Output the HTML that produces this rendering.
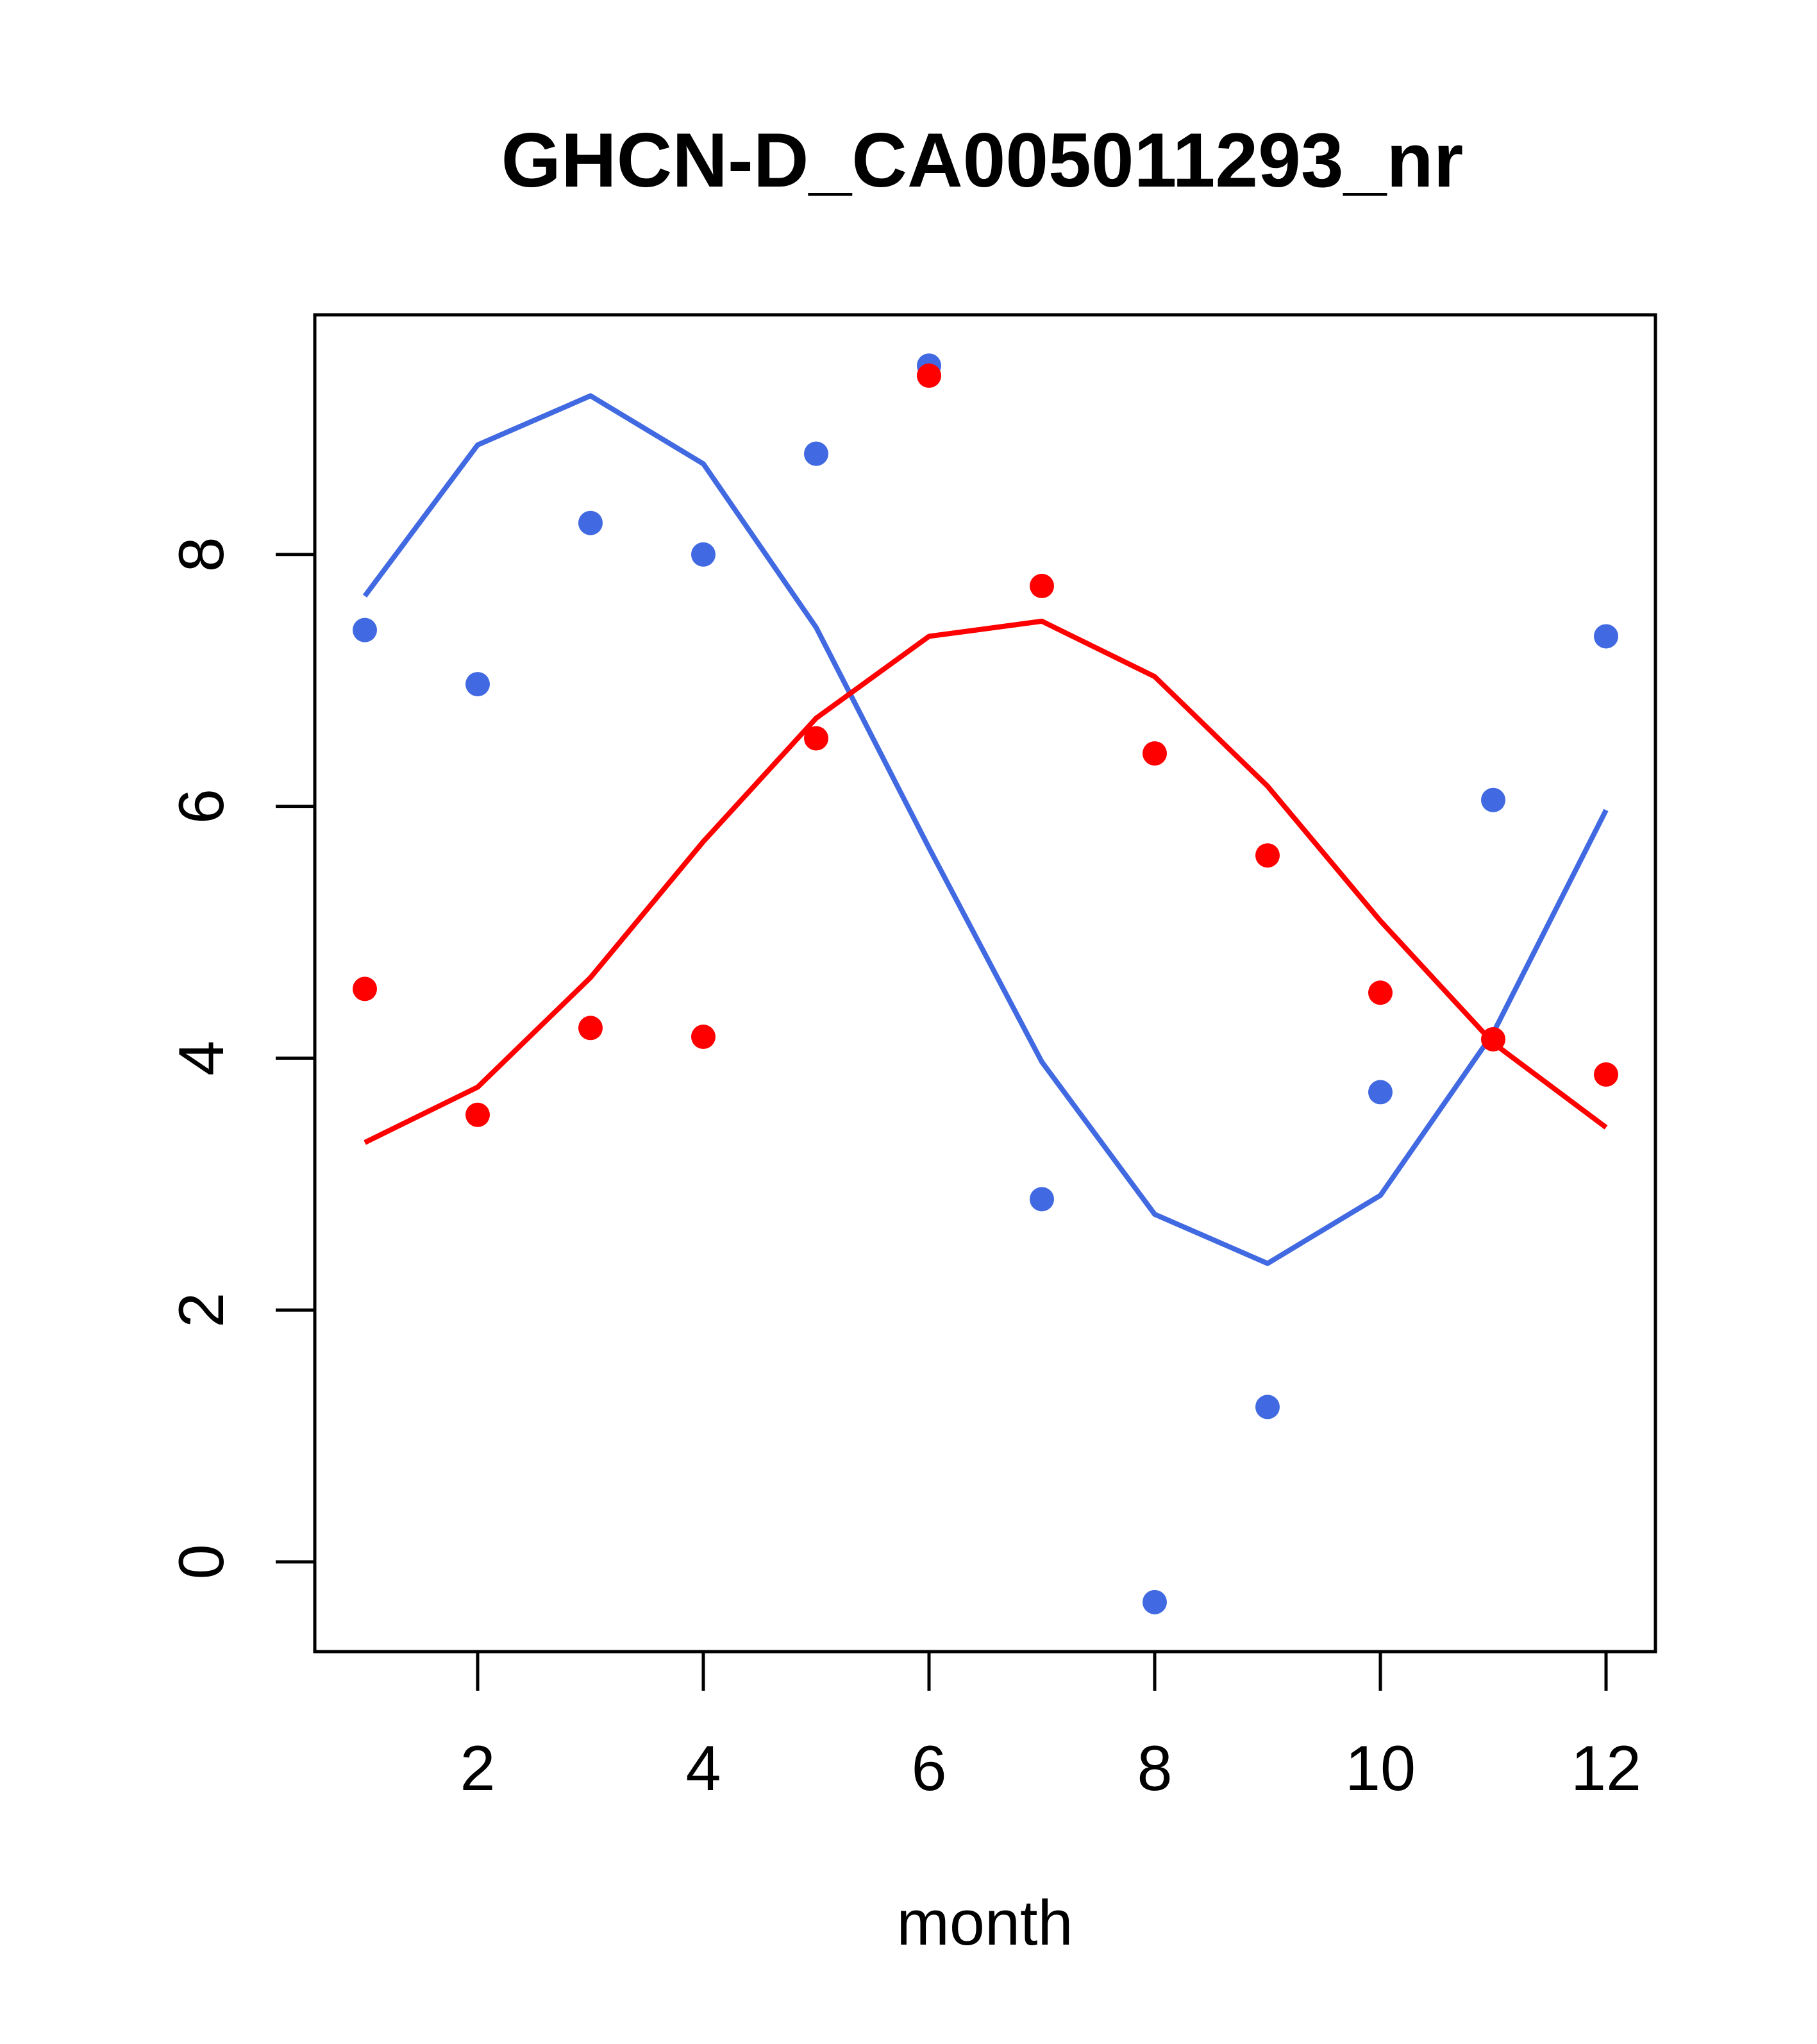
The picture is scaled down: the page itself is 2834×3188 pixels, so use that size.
<!DOCTYPE html>
<html><head><meta charset="utf-8"><style>
html,body{margin:0;padding:0;background:#fff;}
svg{display:block;}
text{font-family:"Liberation Sans",sans-serif;}
</style></head><body>
<svg id="chart" width="2834" height="3188" viewBox="0 0 2834 3188" xmlns="http://www.w3.org/2000/svg">
<text x="1532" y="291" font-size="120" font-weight="bold" text-anchor="middle">GHCN-D_CA005011293_nr</text>
<rect x="491" y="491" width="2091" height="2085" fill="none" stroke="#000" stroke-width="5"/>
<text x="1536" y="3033" font-size="99" text-anchor="middle">month</text>
<g id="xaxis"></g>
<g id="yaxis"></g>
<g id="series"></g>
</svg>
<script>
const months=[1,2,3,4,5,6,7,8,9,10,11,12];
const bluePoints=[7.4,6.97,8.25,8.0,8.8,9.5,2.88,-0.32,1.23,3.73,6.05,7.35];
const blueLine=[7.67,8.87,9.26,8.72,7.42,5.67,3.97,2.76,2.37,2.91,4.2,5.97];
const redPoints=[4.55,3.55,4.24,4.17,6.54,9.42,7.75,6.42,5.61,4.52,4.15,3.87];
const redLine=[3.33,3.77,4.64,5.72,6.7,7.35,7.47,7.03,6.16,5.09,4.12,3.45];
const xTicks=[2,4,6,8,10,12];
const yTicks=[0,2,4,6,8];

const NS="http://www.w3.org/2000/svg";
function X(v){return 569+(v-1)*176;}
function Y(v){return 2436-v*196.4;}
function mk(tag,attrs,parent){const e=document.createElementNS(NS,tag);for(const k in attrs)e.setAttribute(k,attrs[k]);parent.appendChild(e);return e;}
const xa=document.getElementById('xaxis'),ya=document.getElementById('yaxis'),sg=document.getElementById('series');
xTicks.forEach(t=>{
  const l=mk('line',{x1:X(t),x2:X(t),y1:2576,y2:2637,stroke:'#000','stroke-width':5},xa);
  
  
  const tx=mk('text',{x:X(t),y:2792,'font-size':99,'text-anchor':'middle'},xa);
  tx.textContent=t;
  
  
});
yTicks.forEach(t=>{
  const l=mk('line',{x1:430,x2:491,y1:Y(t),y2:Y(t),stroke:'#000','stroke-width':5},ya);
  
  
  const tx=mk('text',{x:0,y:0,'font-size':99,'text-anchor':'middle',transform:`translate(348,${Y(t)}) rotate(-90)`},ya);
  tx.textContent=t;
  
  
});
function line(vals,color,name){
  const p=mk('polyline',{points:vals.map((v,i)=>X(months[i])+','+Y(v)).join(' '),fill:'none',stroke:color,'stroke-width':8,'stroke-linejoin':'round'},sg);
  
  
}
function pts(vals,color,name){
  vals.forEach((v,i)=>{
    const c=mk('circle',{cx:X(months[i]),cy:Y(v),r:19,fill:color},sg);
    
    
  });
}
line(blueLine,'#4169E1','blue-fit-line');
line(redLine,'#FF0000','red-fit-line');
pts(bluePoints,'#4169E1','blue-point');
pts(redPoints,'#FF0000','red-point');
</script>
</body></html>
